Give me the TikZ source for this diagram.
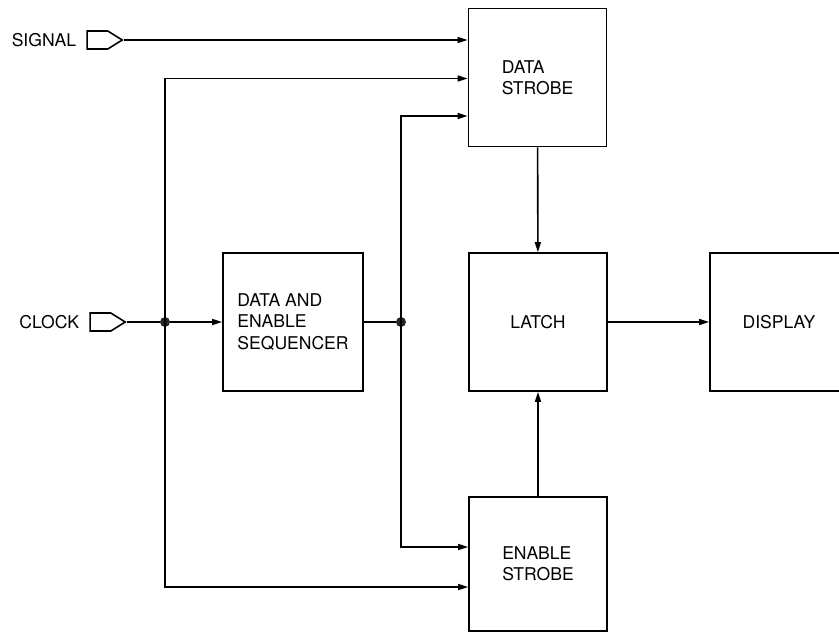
\documentclass[tikz,border=0pt]{standalone}
\usepackage{fontspec}
\setsansfont{TeX Gyre Heros}
\usepackage{tikz}
\usetikzlibrary{shapes.symbols,arrows.meta,positioning,calc}

\begin{document}
\begin{tikzpicture}[
    block/.style={draw, line width=0.9pt, minimum width=2.76cm, minimum height=2.76cm, font=\sffamily, align=left},
    plug/.style={draw, line width=0.9pt, signal, signal to=east, signal pointer angle=64, minimum width=0.7cm, minimum height=0.36cm, inner sep=0pt},
    dot/.style={circle, fill=black!85, minimum size=0.2cm, inner sep=0pt},
    lbl/.style={font=\sffamily, inner sep=0pt},
    wire/.style={line width=0.9pt},
    arrow/.style={-{Triangle[length=2mm,width=1.2mm]}, line width=0.9pt}
]
    \path[use as bounding box, clip] (0,0) rectangle (16.78,-12.64);

    \node[block] (dstrobe) at (10.75,-1.55) {DATA\\STROBE};
    \node[block] (latch) at (10.76,-6.44) {LATCH};
    \node[block] (display) at (15.58,-6.44) {DISPLAY};
    \node[block, minimum width=2.8cm] (seq) at (5.86,-6.44) {DATA AND\\ENABLE\\SEQUENCER};
    \node[block, minimum height=2.68cm] (estrobe) at (10.76,-11.28) {ENABLE\\STROBE};

    \node[plug] (signal) at (1.95,-0.8) {};
    \node[plug] (clock) at (2.01,-6.44) {};
    \node[lbl, left=0.2cm of signal] {SIGNAL};
    \node[lbl, left=0.2cm of clock] {CLOCK};

    \node[dot] (jl) at (3.3,-6.44) {};
    \node[dot] (jr) at (8.02,-6.44) {};

    % inputs
    \draw[arrow] (signal.east) -- (signal.east -| dstrobe.west);
    \draw[wire] (clock.east) -- (jl);
    \draw[arrow] (jl) -- (seq.west);
    \draw[wire] (seq.east) -- (jr);

    % clock and sequencer busses
    \draw[arrow] (jl.center) |- ([yshift=-0.02cm]dstrobe.west);
    \draw[arrow] (jl.center) |- ([yshift=-0.46cm]estrobe.west);
    \draw[arrow] (jr.center) |- ([yshift=-0.77cm]dstrobe.west);
    \draw[arrow] (jr.center) |- ([yshift=0.34cm]estrobe.west);

    \draw[arrow] (dstrobe) -- (latch);
    \draw[arrow] (estrobe) -- (latch);
    \draw[arrow] (latch) -- (display);
\end{tikzpicture}
\end{document}
